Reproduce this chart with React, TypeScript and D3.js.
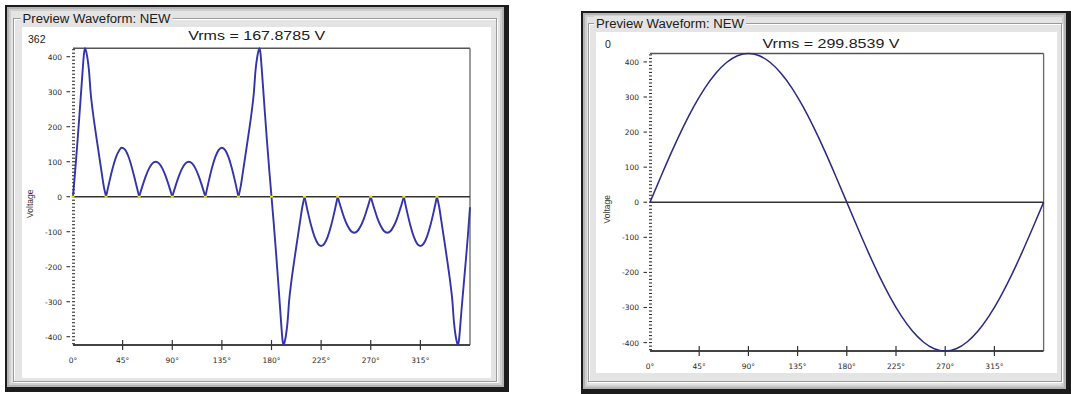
import React from "react";
import * as d3 from "d3";

// ---------- data ----------
const xTickValues = [0, 45, 90, 135, 180, 225, 270, 315];
const yTickValues = [-400, -300, -200, -100, 0, 100, 200, 300, 400];
const yMinorValues = d3.range(-420, 421, 10);
const zeroMarks = [0, 30, 60, 90, 120, 150, 180, 210, 240, 270, 300, 330];

// left waveform, positive half [deg, volts]
const leftPositive: [number, number][] = [
  [0, 0], [2, 75], [4, 155], [6, 240], [8, 328], [9, 372], [10, 410], [11, 424], [12, 414], [13, 398], [14.5, 360], [16, 297], [18, 242], [20, 196], [22, 153], [24, 111], [26, 69], [28, 28], [30, 0],
  [33, 43], [36, 82], [39, 113], [42, 133], [44, 140], [47, 135], [50, 117], [53, 88], [56.5, 45], [60, 0],
  [63, 31], [66, 59], [69, 81], [72, 95], [75, 100], [78, 95], [81, 81], [84, 59], [87, 31], [90, 0],
  [93, 31], [96, 59], [99, 81], [102, 95], [105, 100], [108, 95], [111, 81], [114, 59], [117, 31], [120, 0],
  [123, 43], [126, 82], [129, 113], [132, 133], [135, 140], [138, 133], [141, 113], [144, 82], [147, 43], [150, 0],
  [152, 28], [154, 69], [156, 111], [158, 153], [160, 196], [162, 242], [164, 297], [165.5, 360], [167, 398], [168, 414], [169, 424], [170, 410], [171, 372], [172, 328], [174, 240], [176, 155], [178, 75], [180, 0],
];

// left waveform, negative half [deg, volts]
const leftNegative: [number, number][] = [
  [180, 0], [182, -75], [184, -155], [186, -240], [188, -328], [189, -372], [190, -410], [191, -424], [192, -414], [193, -398], [194.5, -360], [196, -297], [198, -242], [200, -196], [202, -153], [204, -111], [206, -69], [208, -28], [210, 0],
  [213, -44], [216, -83], [219, -114], [222, -134], [225, -141], [228, -134], [231, -114], [234, -83], [237, -44], [240, 0],
  [243, -32], [246, -61], [249, -83], [252, -98], [255, -103], [258, -98], [261, -83], [264, -61], [267, -32], [270, 0],
  [273, -32], [276, -61], [279, -83], [282, -98], [285, -103], [288, -98], [291, -83], [294, -61], [297, -32], [300, 0],
  [303, -44], [306, -83], [309, -114], [312, -134], [315, -141], [318, -134], [321, -114], [324, -83], [327, -44], [330, 0],
  [332, -28], [334, -69], [336, -111], [338, -153], [340, -196], [342, -242], [344, -297], [345.5, -360], [347, -398], [348, -414], [349, -424], [350, -410], [351, -375], [352, -335], [354, -262], [356, -190], [358, -115], [360, -30],
];

// right waveform: pure sine, every 10 degrees
const rightAngles = d3.range(0, 361, 10);
const rightValues = [
  0, 73.6, 145.0, 212.0, 272.5, 324.8, 367.2, 398.4, 417.6, 424, 417.6, 398.4, 367.2, 324.8, 272.5, 212.0, 145.0, 73.6, 0,
  -73.6, -145.0, -212.0, -272.5, -324.8, -367.2, -398.4, -417.6, -424, -417.6, -398.4, -367.2, -324.8, -272.5, -212.0, -145.0, -73.6, 0,
];

const leftTitle = "Preview Waveform: NEW";
const rightTitle = "Preview Waveform: NEW";
const leftVrms = "Vrms = 167.8785 V";
const rightVrms = "Vrms = 299.8539 V";

// ---------- components ----------
type Box = { x0: number; y0: number; x1: number; y1: number };

type PanelProps = {
  frame: Box;
  group: Box;
  white: Box;
  titleX: number;
  titleY: number;
  title: string;
  corner: string;
  cornerX: number;
  cornerY: number;
  vrms: string;
  vrmsX: number;
  vrmsY: number;
  plot: Box;
  points: [number, number][];
  splitAtZero: boolean;
  curve: d3.CurveFactory;
  lineColor: string;
  lineWidth: number;
  marks: number[];
};

const FONT = "'Liberation Sans', Arial, sans-serif";
const TICKFONT = "'DejaVu Sans', Verdana, sans-serif";

function Panel(p: PanelProps) {
  const x = d3.scaleLinear().domain([0, 360]).range([p.plot.x0, p.plot.x1]);
  const y = d3.scaleLinear().domain([-424, 424]).range([p.plot.y1, p.plot.y0]);
  const line = d3
    .line<[number, number]>()
    .x((d) => x(d[0]))
    .y((d) => y(d[1]))
    .curve(p.curve);

  let paths: string[] = [];
  if (p.splitAtZero) {
    let seg: [number, number][] = [];
    p.points.forEach((pt, i) => {
      seg.push(pt);
      if (pt[1] === 0 && seg.length > 1) {
        paths.push(line(seg) || "");
        seg = [pt];
      }
      if (i === p.points.length - 1 && seg.length > 1) paths.push(line(seg) || "");
    });
  } else {
    paths = [line(p.points) || ""];
  }

  const f = p.frame;
  const g = p.group;
  const w = p.white;
  const titleW = 148;
  return (
    <g>
      {/* outer window frame */}
      <rect x={f.x0} y={f.y0} width={f.x1 - f.x0} height={f.y1 - f.y0} fill="#1c1c1c" />
      <rect x={f.x0 + 2} y={f.y0 + 2} width={f.x1 - f.x0 - 7} height={f.y1 - f.y0 - 7} fill="#b4b4b4" />
      <rect x={f.x0 + 4} y={f.y0 + 4} width={f.x1 - f.x0 - 11} height={f.y1 - f.y0 - 11} fill="#cfcfcf" />
      <rect x={f.x0 + 6} y={f.y0 + 6} width={f.x1 - f.x0 - 15} height={f.y1 - f.y0 - 15} fill="#e4e4e4" />
      {/* group box */}
      <rect x={g.x0 + 1} y={g.y0 + 1} width={g.x1 - g.x0} height={g.y1 - g.y0} fill="none" stroke="#ffffff" strokeWidth={1} />
      <rect x={g.x0} y={g.y0} width={g.x1 - g.x0} height={g.y1 - g.y0} fill="none" stroke="#9a9a9a" strokeWidth={1} />
      <rect x={p.titleX - 2} y={p.titleY - 12} width={titleW + 4} height={15} fill="#e4e4e4" />
      <text x={p.titleX} y={p.titleY} fontFamily={FONT} fontSize={12.5} fill="#202020" textLength={titleW} lengthAdjust="spacingAndGlyphs">
        {p.title}
      </text>
      {/* white chart area */}
      <rect x={w.x0} y={w.y0} width={w.x1 - w.x0} height={w.y1 - w.y0} fill="#ffffff" />
      <text x={p.cornerX} y={p.cornerY} fontFamily={FONT} fontSize={10.5} fill="#222">
        {p.corner}
      </text>
      <text x={p.vrmsX} y={p.vrmsY} textAnchor="middle" fontFamily={FONT} fontSize={13.5} fill="#202020" textLength={137} lengthAdjust="spacingAndGlyphs">
        {p.vrms}
      </text>
      {/* plot border */}
      <line x1={p.plot.x0} x2={p.plot.x1} y1={p.plot.y0} y2={p.plot.y0} stroke="#555" strokeWidth={1.5} />
      <line x1={p.plot.x1} x2={p.plot.x1} y1={p.plot.y0} y2={p.plot.y1} stroke="#666" strokeWidth={1.3} />
      {/* y axis ticks */}
      {yMinorValues.map((v) => (
        <line key={"m" + v} x1={p.plot.x0 - 1} x2={p.plot.x0 + 2} y1={y(v)} y2={y(v)} stroke="#333" strokeWidth={1.1} />
      ))}
      {yTickValues.map((v) => (
        <g key={"t" + v}>
          <line x1={p.plot.x0 - 6.5} x2={p.plot.x0 - 3} y1={y(v)} y2={y(v)} stroke="#333" strokeWidth={1.1} />
          <text x={p.plot.x0 - 11} y={y(v) + 3} textAnchor="end" fontFamily={TICKFONT} fontSize={7.5} fill="#2a2a2a">
            {v}
          </text>
        </g>
      ))}
      <text
        transform={`translate(${p.plot.x0 - 40},${y(0) + 7}) rotate(-90)`}
        textAnchor="middle"
        fontFamily={FONT}
        fontSize={8.5}
        fill="#333"
      >
        Voltage
      </text>
      {/* x axis */}
      <line x1={p.plot.x0} x2={p.plot.x1} y1={p.plot.y1} y2={p.plot.y1} stroke="#444" strokeWidth={2} />
      {xTickValues.map((v) => (
        <g key={"x" + v}>
          {v > 0 && <line x1={x(v)} x2={x(v)} y1={p.plot.y1 - 5} y2={p.plot.y1 + 5} stroke="#333" strokeWidth={1.2} />}
          <text x={x(v)} y={p.plot.y1 + 18} textAnchor="middle" fontFamily={TICKFONT} fontSize={7.5} fill="#2a2a2a">
            {v + "°"}
          </text>
        </g>
      ))}
      {/* zero line */}
      <line x1={p.plot.x0} x2={p.plot.x1} y1={y(0)} y2={y(0)} stroke="#333" strokeWidth={1.5} />
      {/* waveform */}
      {paths.map((d, i) => (
        <path key={i} d={d} fill="none" stroke={p.lineColor} strokeWidth={p.lineWidth} strokeLinejoin="round" />
      ))}
      {p.marks.map((m) => (
        <rect key={"z" + m} x={x(m) - 1.5} y={y(0) - 1} width={3} height={2} fill="#f0e800" />
      ))}
    </g>
  );
}

export default function App() {
  const rightPoints: [number, number][] = rightAngles.map((a, i) => [a, rightValues[i]]);
  return (
    <svg width={1071} height={394} style={{ position: "absolute", left: 0, top: 0, background: "#fff" }}>
      <Panel
        frame={{ x0: 5, y0: 5, x1: 509, y1: 392 }}
        group={{ x0: 13.5, y0: 18.5, x1: 496.5, y1: 381.5 }}
        white={{ x0: 22, y0: 27, x1: 491, y1: 378 }}
        titleX={22.5}
        titleY={23}
        title={leftTitle}
        corner="362"
        cornerX={28}
        cornerY={43}
        vrms={leftVrms}
        vrmsX={256.7}
        vrmsY={39.5}
        plot={{ x0: 73, y0: 48.3, x1: 470, y1: 345.1 }}
        points={[...leftPositive, ...leftNegative.slice(1)]}
        splitAtZero={true}
        curve={d3.curveMonotoneX}
        lineColor="#3434a8"
        lineWidth={1.9}
        marks={zeroMarks}
      />
      <Panel
        frame={{ x0: 581, y0: 11, x1: 1071, y1: 394 }}
        group={{ x0: 588.5, y0: 23.5, x1: 1061.5, y1: 381.5 }}
        white={{ x0: 596, y0: 32, x1: 1057, y1: 373 }}
        titleX={596}
        titleY={28}
        title={rightTitle}
        corner="0"
        cornerX={605}
        cornerY={48}
        vrms={rightVrms}
        vrmsX={831}
        vrmsY={47.5}
        plot={{ x0: 650, y0: 53.5, x1: 1043.6, y1: 351 }}
        points={rightPoints}
        splitAtZero={false}
        curve={d3.curveNatural}
        lineColor="#2a2a84"
        lineWidth={1.5}
        marks={[]}
      />
    </svg>
  );
}
